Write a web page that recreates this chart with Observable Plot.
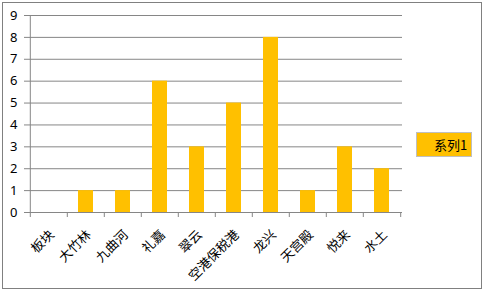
<!DOCTYPE html>
<html>
<head>
<meta charset="utf-8">
<script src="https://cdn.jsdelivr.net/npm/d3@7"></script>
<script src="https://cdn.jsdelivr.net/npm/@observablehq/plot@0.6"></script>
<style>
  html, body { margin: 0; padding: 0; background: #fff; }
  #wrap { position: relative; width: 483px; height: 294px; overflow: hidden; }
  #frame { position: absolute; left: 2px; top: 2px; width: 478px; height: 285px; border: 1px solid #808080; pointer-events: none; }
  #legend { position: absolute; left: 416px; top: 132px; width: 54px; height: 23px; background: #FFC000; border: 1px solid #BFBFBF;
    font: 13px "Noto Sans CJK SC", sans-serif; line-height: 23px; color: #000; }
  #legend span { position: absolute; left: 17px; top: 0; }
</style>
</head>
<body>
<div id="wrap">
  <div id="chart"></div>
  <div id="frame"></div>
  <div id="legend"><span id="legendText"></span></div>
</div>
<script>
const categories = ["板块", "大竹林", "九曲河", "礼嘉", "翠云", "空港保税港", "龙兴", "天宫殿", "悦来", "水土"];
const values = [0, 1, 1, 6, 3, 5, 8, 1, 3, 2];
const seriesName = "系列1";
const yTicks = [0, 1, 2, 3, 4, 5, 6, 7, 8, 9];

const data = categories.map((c, i) => ({category: c, value: values[i]}));
const half = 374 / 10 / 2;

const chart = Plot.plot({
  width: 483,
  height: 294,
  marginLeft: 28,
  marginRight: 81,
  marginTop: 15,
  marginBottom: 82,
  style: {fontFamily: "'Noto Sans CJK SC', sans-serif", fontSize: "13px", color: "#000", background: "transparent"},
  x: {domain: categories, paddingInner: 0.6, paddingOuter: 0.3, label: null, axis: null},
  y: {domain: [0, 9], ticks: yTicks, label: null, axis: null},
  marks: [
    Plot.gridY(yTicks, {stroke: "#868686", strokeOpacity: 1, strokeWidth: 1}),
    Plot.axisY(yTicks, {tickSize: 4, tickPadding: 7, stroke: "#868686", strokeOpacity: 1, fontFamily: "'Noto Sans', sans-serif", fontSize: 13, fill: "#000"}),
    Plot.barY(data, {x: "category", y: "value", fill: "#FFC000"}),
    Plot.axisX(categories, {tickSize: 5, dx: -half, tickFormat: () => "", stroke: "#868686", strokeOpacity: 1}),
    Plot.axisX([categories[categories.length - 1]], {tickSize: 5, dx: half, tickFormat: () => "", stroke: "#868686", strokeOpacity: 1}),
    Plot.axisX(categories, {tickSize: 0, tickPadding: 20, tickRotate: -45, textAnchor: "end", fontSize: 13, fill: "#000", dx: 3}),
    Plot.ruleY([0], {stroke: "#868686", strokeWidth: 1}),
    Plot.ruleX([categories[0]], {dx: -half, y1: 0, y2: 9, stroke: "#868686"})
  ]
});
document.getElementById("chart").appendChild(chart);
document.getElementById("legendText").textContent = seriesName;
</script>
</body>
</html>
